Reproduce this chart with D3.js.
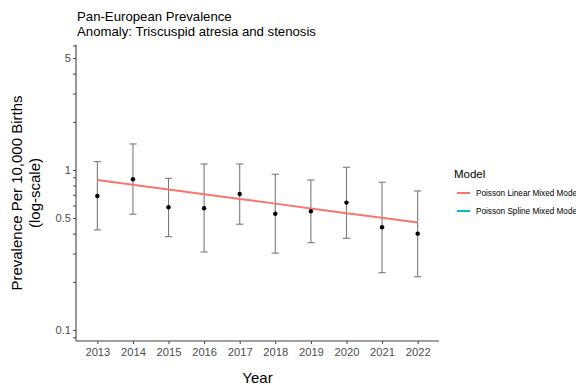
<!DOCTYPE html>
<html>
<head>
<meta charset="utf-8">
<script src="https://cdn.jsdelivr.net/npm/d3@7"></script>
<style>
  html, body { margin: 0; padding: 0; background: #fff; }
  svg { display: block; font-family: "Liberation Sans", Arial, sans-serif; }
</style>
</head>
<body>
<svg id="chart" width="576" height="385"></svg>
<script>
// Observed prevalence per 10,000 births with 95% intervals
const years = [2013, 2014, 2015, 2016, 2017, 2018, 2019, 2020, 2021, 2022];
const prevalence = [0.688, 0.875, 0.585, 0.576, 0.708, 0.533, 0.552, 0.625, 0.438, 0.400];
const lower = [0.422, 0.529, 0.383, 0.307, 0.458, 0.302, 0.351, 0.374, 0.228, 0.215];
const upper = [1.127, 1.454, 0.887, 1.090, 1.090, 0.940, 0.866, 1.040, 0.838, 0.739];
// Fitted trend from the Poisson linear mixed model
const linearFit = [0.866, 0.809, 0.755, 0.706, 0.659, 0.616, 0.575, 0.537, 0.502, 0.469];
// Legend entries
const models = ["Poisson Linear Mixed Model", "Poisson Spline Mixed Model"];
const modelColors = ["#F8766D", "#00BFC4"];
// Axis breaks
const yLabelled = [0.1, 0.5, 1, 5];
const yTicks = [0.09, 0.1, 0.2, 0.3, 0.4, 0.5, 0.6, 0.7, 0.8, 0.9, 1, 2, 3, 4, 5, 6];

const svg = d3.select("#chart");
const panel = { left: 76, right: 439, top: 45, bottom: 341 };

const x = d3.scalePoint()
  .domain(years)
  .range([panel.left, panel.right])
  .padding(0.6);

const y = d3.scaleLog()
  .domain([0.0853, 6.04])
  .range([panel.bottom, panel.top]);

// Titles
svg.append("text").attr("x", 77).attr("y", 21)
  .attr("font-size", 13.2).attr("fill", "#000")
  .text("Pan-European Prevalence");
svg.append("text").attr("x", 77).attr("y", 36)
  .attr("font-size", 13.2).attr("fill", "#000")
  .text("Anomaly: Triscuspid atresia and stenosis");

// Y axis
const yAxis = d3.axisLeft(y)
  .tickValues(yTicks)
  .tickSize(3)
  .tickPadding(2)
  .tickFormat(d => yLabelled.includes(d) ? d3.format("~g")(d) : "");
const gy = svg.append("g")
  .attr("transform", `translate(${panel.left},0)`)
  .call(yAxis);
gy.select(".domain").attr("stroke", "#444").attr("stroke-width", 1.1)
  .attr("d", `M0,${panel.top}V${panel.bottom}`);
gy.selectAll(".tick line").attr("stroke", "#444");
gy.selectAll(".tick text").attr("font-size", 11.2).attr("fill", "#4D4D4D")
  .attr("font-family", "Liberation Sans, Arial, sans-serif");

// X axis
const xAxis = d3.axisBottom(x).tickSize(3).tickPadding(4);
const gx = svg.append("g")
  .attr("transform", `translate(0,${panel.bottom})`)
  .call(xAxis);
gx.select(".domain").attr("stroke", "#444").attr("stroke-width", 1.1)
  .attr("d", `M${panel.left},0H${panel.right}`);
gx.selectAll(".tick line").attr("stroke", "#444");
gx.selectAll(".tick text").attr("font-size", 11.2).attr("fill", "#4D4D4D")
  .attr("font-family", "Liberation Sans, Arial, sans-serif");

// Axis titles
svg.append("text")
  .attr("x", (panel.left + panel.right) / 2).attr("y", 383)
  .attr("text-anchor", "middle").attr("font-size", 15).attr("fill", "#000")
  .text("Year");
const yTitle = svg.append("text")
  .attr("transform", `translate(0,${(panel.top + panel.bottom) / 2}) rotate(-90)`)
  .attr("text-anchor", "middle").attr("font-size", 15).attr("fill", "#000");
yTitle.append("tspan").attr("x", 0).attr("y", 22).text("Prevalence Per 10,000 Births");
yTitle.append("tspan").attr("x", 0).attr("y", 40).text("(log-scale)");

// Error bars
const rows = years.map((yr, i) => ({ yr, v: prevalence[i], lo: lower[i], hi: upper[i] }));
const cap = 3.6;
const eb = svg.append("g").attr("stroke", "#7a7a7a").attr("stroke-width", 1.1);
eb.selectAll("line.v").data(rows).join("line").attr("class", "v")
  .attr("x1", d => x(d.yr)).attr("x2", d => x(d.yr))
  .attr("y1", d => y(d.lo)).attr("y2", d => y(d.hi));
eb.selectAll("line.t").data(rows).join("line").attr("class", "t")
  .attr("x1", d => x(d.yr) - cap).attr("x2", d => x(d.yr) + cap)
  .attr("y1", d => y(d.hi)).attr("y2", d => y(d.hi));
eb.selectAll("line.b").data(rows).join("line").attr("class", "b")
  .attr("x1", d => x(d.yr) - cap).attr("x2", d => x(d.yr) + cap)
  .attr("y1", d => y(d.lo)).attr("y2", d => y(d.lo));

// Linear model trend
svg.append("path")
  .datum(years.map((yr, i) => [yr, linearFit[i]]))
  .attr("fill", "none").attr("stroke", modelColors[0]).attr("stroke-width", 2)
  .attr("d", d3.line().x(d => x(d[0])).y(d => y(d[1])));

// Observed points
svg.append("g").selectAll("circle").data(rows).join("circle")
  .attr("cx", d => x(d.yr)).attr("cy", d => y(d.v)).attr("r", 2.2)
  .attr("fill", "#000");

// Legend
const lg = svg.append("g").attr("transform", "translate(454,0)");
lg.append("text").attr("x", 0).attr("y", 178).attr("font-size", 11.5).attr("fill", "#000")
  .text("Model");
models.forEach((m, i) => {
  const cy = 193 + i * 18;
  lg.append("line").attr("x1", 3).attr("x2", 16).attr("y1", cy).attr("y2", cy)
    .attr("stroke", modelColors[i]).attr("stroke-width", 2);
  lg.append("text").attr("x", 22).attr("y", cy + 3).attr("font-size", 8.2).attr("fill", "#000")
    .text(m);
});
</script>
</body>
</html>
